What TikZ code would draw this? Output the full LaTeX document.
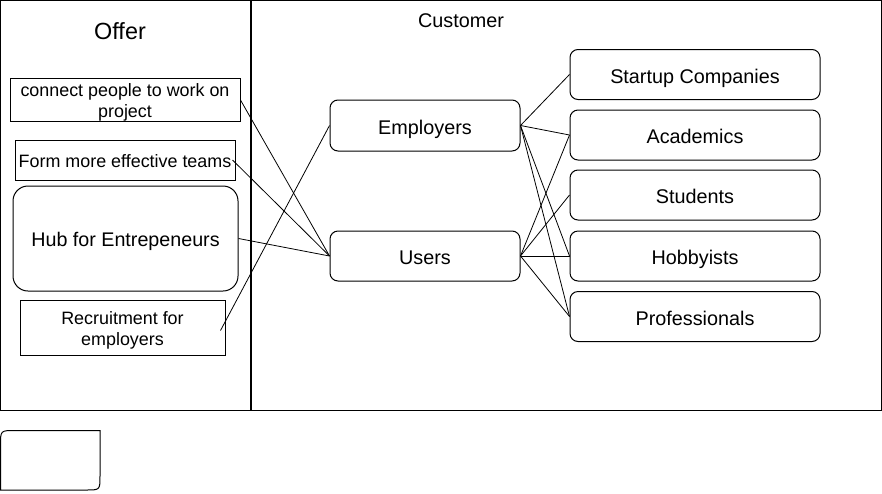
\documentclass[tikz,border=0pt]{standalone}
\usepackage{fontspec}
\setmainfont{Liberation Sans}

\begin{document}
\begin{tikzpicture}[x=1pt,y=-1pt,line width=1pt,
  every node/.style={inner sep=0pt, text=black},
  offerbox/.style={draw, align=center, font=\fontsize{17.9}{20.5}\selectfont},
  custbox/.style={draw, rounded corners=8pt, minimum width=250pt, minimum height=50pt, text height=17.6pt, text depth=0pt, font=\fontsize{19.8}{22}\selectfont},
  link/.style={line width=0.8pt}]
\useasboundingbox (0,0) rectangle (882,493);

% Frames of the two columns
\draw (0.5,0.5) rectangle (250.5,410);
\draw (251.5,0.5) rectangle (881.5,410);
\node (offer) at (120,31) {\fontsize{23.4}{26}\selectfont Offer};
\node (customer) at (461,20.5) {\fontsize{19.8}{22}\selectfont Customer};

% Offer side
\node[offerbox, minimum width=230pt, minimum height=40pt] (O1) at (125,100) {\rule{0pt}{18pt}connect people to work on\\project};
\node[offerbox, minimum width=220pt, minimum height=40pt] (O2) at (125,160) {\rule{0pt}{15pt}Form more effective teams};
\node[offerbox, rounded corners=15pt, minimum width=225pt, minimum height=105pt, text height=16.4pt, text depth=0pt, font=\fontsize{19.7}{22}\selectfont] (O3) at (125.5,238.5) {Hub for Entrepeneurs};
\node[offerbox, minimum width=205pt, minimum height=55pt] (O4) at (122.5,327.5) {\rule{0pt}{19pt}Recruitment for\\employers};

% Middle column
\node[custbox, minimum width=190pt, minimum height=51pt] (Emp) at (425,125.5) {Employers};
\node[custbox, minimum width=190pt] (Usr) at (425,256) {Users};

% Customer segments
\node[custbox] (C1) at (695,74.5) {Startup Companies};
\node[custbox] (C2) at (695,135) {Academics};
\node[custbox] (C3) at (695,195) {Students};
\node[custbox] (C4) at (695,256) {Hobbyists};
\node[custbox] (C5) at (695,316.5) {Professionals};

% Loose box below
\draw (0.5,490) -- (0.5,445) .. controls (0.5,430.5) .. (15,430.5) -- (100,430.5) -- (100,476) .. controls (100,490) .. (86,490) -- cycle;

% Links offer -> middle
\draw[link] (O1.east) -- (Usr.west);
\draw[link] ([xshift=-3pt]O2.east) -- (Usr.west);
\draw[link] (O3.east) -- (Usr.west);
\draw[link] ([shift={(-5,3)}]O4.east) -- (Emp.west);

% Links middle -> segments
\draw[link] (Emp.east) -- (C1.west);
\draw[link] (Emp.east) -- (C2.west);
\draw[link] (Emp.east) -- (C4.west);
\draw[link] (Emp.east) -- (C5.west);
\draw[link] (Usr.east) -- (C2.west);
\draw[link] (Usr.east) -- (C3.west);
\draw[link] (Usr.east) -- (C4.west);
\draw[link] (Usr.east) -- (C5.west);
\end{tikzpicture}
\end{document}
